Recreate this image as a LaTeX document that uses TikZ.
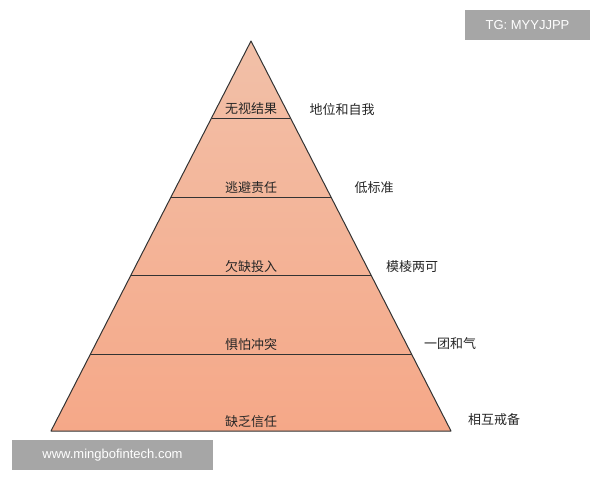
\documentclass[tikz,border=0pt]{standalone}
\usepackage{fontspec}
\setmainfont{Liberation Sans}
\newfontfamily\cjk{Noto Sans CJK SC}
\begin{document}
\begin{tikzpicture}[x=1pt,y=-1pt,
  lbl/.style={font=\cjk\fontsize{13}{15}\selectfont,text=black!85,inner sep=0pt},
  wm/.style={fill=black!35,text=white,font=\fontsize{13}{15}\selectfont,inner sep=0pt}]
\useasboundingbox (0,0) rectangle (600,480);
\fill[white] (0,0) rectangle (600,480);
\coordinate (apex) at (251,41);
\coordinate (bl) at (51,431);
\coordinate (br) at (451,431);
\shade[top color={rgb,255:red,242;green,192;blue,168},bottom color={rgb,255:red,245;green,168;blue,136}] (apex) -- (bl) -- (br) -- cycle;
\draw[line width=1pt,black!80,line join=round] (apex) -- (bl) -- (br) -- cycle;
\foreach \y in {118,197,275,354}{
  \pgfmathsetmacro\hw{0.51282*(\y-41)}
  \draw[line width=1pt,black!80] (251-\hw,\y) -- (251+\hw,\y);
}
\node[lbl] (l1) at (251,109) {无视结果};
\node[lbl] (l2) at (251,188) {逃避责任};
\node[lbl] (l3) at (251,267) {欠缺投入};
\node[lbl] (l4) at (251,345) {惧怕冲突};
\node[lbl] (l5) at (251,422) {缺乏信任};
\node[lbl] (r1) at (342,110) {地位和自我};
\node[lbl] (r2) at (374,188) {低标准};
\node[lbl] (r3) at (412,267) {模棱两可};
\node[lbl] (r4) at (450,344) {一团和气};
\node[lbl] (r5) at (494,420) {相互戒备};
\node[wm,minimum width=125,minimum height=30] (tg) at (527.5,25) {TG: MYYJJPP};
\node[wm,minimum width=201,minimum height=30] (www) at (112.5,455) {www.mingbofintech.com};
\end{tikzpicture}
\end{document}
